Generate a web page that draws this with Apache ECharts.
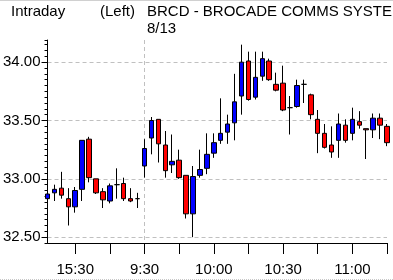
<!DOCTYPE html>
<html>
<head>
<meta charset="utf-8">
<script src="https://cdn.jsdelivr.net/npm/echarts@6/dist/echarts.min.js"></script>
<style>
html,body{margin:0;padding:0;background:#fff;}
#c{width:393px;height:280px;}
</style>
</head>
<body>
<div id="c"></div>
<script>
var times = ['15:18','15:21','15:24','15:27','15:30','15:33','15:36','15:39','15:42','15:45',
  '15:48','15:51','15:54','15:57','9:30','9:33','9:36','9:39','9:42','9:45',
  '9:48','9:51','9:54','9:57','10:00','10:03','10:06','10:09','10:12','10:15',
  '10:18','10:21','10:24','10:27','10:30','10:33','10:36','10:39','10:42','10:45',
  '10:48','10:51','10:54','10:57','11:00','11:03','11:06','11:09','11:12','11:15'];
var opens  = [32.83,32.88,32.92,32.83,32.76,32.91,33.34,33.00,32.89,32.81,
  32.95,32.96,32.83,32.83,33.11,33.35,33.51,33.29,33.12,33.16,
  33.03,32.70,33.03,33.09,33.22,33.33,33.40,33.48,33.71,34.01,
  33.70,33.88,34.01,33.81,33.82,33.61,33.62,33.81,33.72,33.51,
  33.39,33.29,33.33,33.46,33.39,33.49,33.43,33.42,33.52,33.45];
var highs  = [32.97,32.95,33.06,32.92,32.93,33.33,33.36,33.00,32.92,32.96,
  33.09,33.01,32.92,32.88,33.34,33.53,33.51,33.41,33.38,33.25,
  33.03,33.11,33.25,33.39,33.39,33.69,33.55,33.90,34.15,34.09,
  34.09,34.09,34.03,33.91,33.97,33.71,33.85,33.85,33.73,33.59,
  33.47,33.45,33.56,33.51,33.61,33.58,33.43,33.56,33.56,33.47];
var lows   = [32.77,32.81,32.83,32.60,32.71,32.81,32.97,32.87,32.75,32.79,
  32.83,32.81,32.80,32.75,33.01,33.21,33.14,33.01,33.05,33.00,
  32.66,32.50,33.01,33.04,33.18,33.30,33.30,33.33,33.55,33.67,
  33.68,33.84,33.84,33.75,33.58,33.38,33.61,33.65,33.51,33.22,
  33.26,33.18,33.18,33.31,33.33,33.43,33.17,33.35,33.34,33.28];
var closes = [32.87,32.91,32.86,32.76,32.90,33.33,33.01,32.88,32.82,32.94,
  32.95,32.83,32.81,32.83,33.26,33.50,33.30,33.07,33.15,33.01,
  32.70,33.02,33.08,33.21,33.31,33.39,33.47,33.66,34.00,33.68,
  33.87,34.03,33.85,33.76,33.59,33.61,33.80,33.81,33.55,33.39,
  33.27,33.23,33.47,33.33,33.51,33.46,33.42,33.52,33.46,33.31];
var majorTicks = [32.5, 33.0, 33.5, 34.0];
var dayStart = '9:30';
var dateLabel = '8/13';

var FONT = "'Liberation Sans',Arial,sans-serif";
var ohlc = opens.map(function(o,i){ return [o, closes[i], lows[i], highs[i]]; });
var dayIdx = times.indexOf(dayStart);

var chart = echarts.init(document.getElementById('c'), null, {renderer:'canvas'});
chart.setOption({
  animation: false,
  backgroundColor: '#fff',
  grid: {left: 43, right: 6, top: 40, bottom: 37, containLabel: false},
  xAxis: {
    type: 'category', data: times, boundaryGap: false,
    axisLine: {lineStyle: {color: '#000', width: 1}},
    axisTick: {show: true, length: 11, lineStyle: {color: '#000'},
      interval: function(i){ return i % 5 === 4; }},
    axisLabel: {color: '#000', fontFamily: FONT, fontSize: 15, margin: 19,
      interval: function(i){ return i % 10 === 4; }},
    splitLine: {show: true, interval: function(i){ return i === dayIdx; },
      lineStyle: {color: '#c0c0c0', type: [4,3]}}
  },
  yAxis: [{
    type: 'value', min: 32.45, max: 34.19, splitNumber: 4, position: 'left',
    axisLine: {show: true, lineStyle: {color: '#000'}},
    axisTick: {show: true, length: 6, customValues: majorTicks, lineStyle: {color: '#000'}},
    axisLabel: {color: '#000', fontFamily: FONT, fontSize: 15, margin: 7,
      customValues: majorTicks,
      formatter: function(v){ return v.toFixed(2); }},
    splitLine: {show: true, lineStyle: {color: '#c0c0c0', type: [4,3]}}
  },{
    type: 'value', min: 32.45, max: 34.19, interval: 0.05, position: 'left',
    axisLine: {show: false},
    axisTick: {show: true, length: 3, lineStyle: {color: '#000'}},
    axisLabel: {show: false},
    splitLine: {show: false}
  }],
  series: [{
    type: 'candlestick', data: ohlc, barWidth: 5, clip: true,
    itemStyle: {color: '#0000ff', color0: '#ff0000', borderColor: '#000', borderColor0: '#000',
      borderColorDoji: '#000', borderWidth: 1}
  }],
  graphic: [
    {type: 'line', shape: {x1: 0, y1: 0.5, x2: 393, y2: 0.5}, style: {stroke: '#d0d0d0', lineWidth: 1}},
    {type: 'line', shape: {x1: 0, y1: 279.5, x2: 393, y2: 279.5}, style: {stroke: '#c8c8c8', lineWidth: 1, lineDash: [1,1]}},
    {type: 'text', x: 11, y: 4, style: {text: 'Intraday', font: '15px ' + FONT, fill: '#000', verticalAlign: 'top'}},
    {type: 'text', x: 100, y: 4, style: {text: '(Left)', font: '15px ' + FONT, fill: '#000', verticalAlign: 'top'}},
    {type: 'text', x: 147, y: 4, style: {text: 'BRCD - BROCADE COMMS SYSTEMS', font: '15px ' + FONT, fill: '#000', verticalAlign: 'top'}},
    {type: 'text', x: 147, y: 21, style: {text: dateLabel, font: '15px ' + FONT, fill: '#000', verticalAlign: 'top'}}
  ]
});
</script>
</body>
</html>
